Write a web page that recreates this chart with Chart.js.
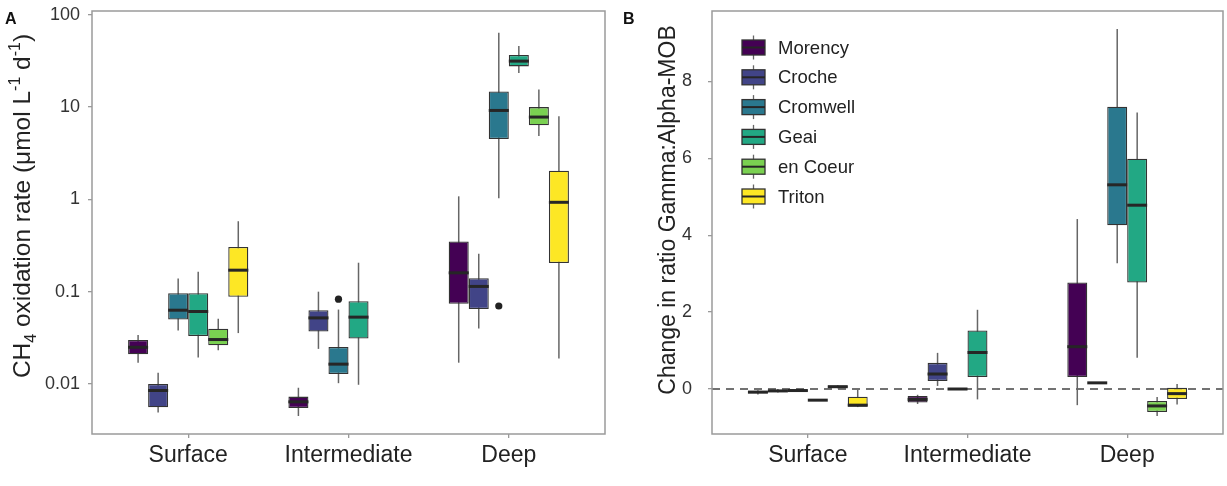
<!DOCTYPE html>
<html>
<head>
<meta charset="utf-8">
<script src="https://cdn.jsdelivr.net/npm/chart.js@4.4.0/dist/chart.umd.min.js"></script>
<style>
  html, body { margin: 0; padding: 0; background: #fff; }
  #wrap { position: relative; width: 1227px; height: 486px; }
  #rateChart { position: absolute; left: 0; top: 0; }
  #ratioChart { position: absolute; left: 613px; top: 0; }
</style>
</head>
<body>
<div id="wrap">
  <canvas id="rateChart" width="613" height="486"></canvas>
  <canvas id="ratioChart" width="614" height="486"></canvas>
</div>
<script>
// === Data ===
const categories = ['Surface', 'Intermediate', 'Deep'];
const sites = ['Morency', 'Croche', 'Cromwell', 'Geai', 'en Coeur', 'Triton'];
const siteColors = ['#440154', '#414487', '#2A788E', '#22A884', '#7AD151', '#FDE725'];

// Panel A: CH4 oxidation rate, [min, q1, median, q3, max] per depth (null = no samples)
const rateMorency  = [[0.017, 0.021, 0.025, 0.030, 0.034], [0.0045, 0.0055, 0.0064, 0.0073, 0.0091], [0.017, 0.074, 0.16, 0.35, 1.08]];
const rateCroche   = [[0.0049, 0.0056, 0.0085, 0.0100, 0.0132], [0.024, 0.037, 0.052, 0.063, 0.100], [0.040, 0.065, 0.114, 0.140, 0.258]];
const rateCromwell = [[0.038, 0.050, 0.063, 0.096, 0.139], [0.0102, 0.0128, 0.0164, 0.0252, 0.064], [1.03, 4.5, 9.2, 14.8, 64]];
const rateGeai     = [[0.0194, 0.033, 0.061, 0.096, 0.164], [0.0098, 0.031, 0.053, 0.079, 0.206], [23.4, 27.6, 31.5, 36.8, 46]];
const rateCoeur    = [[0.0232, 0.0262, 0.0303, 0.0397, 0.0508], null, [4.87, 6.35, 7.8, 10.0, 15.5]];
const rateTriton   = [[0.0356, 0.088, 0.171, 0.305, 0.58], null, [0.0189, 0.204, 0.93, 2.04, 7.94]];
const rateOutliers = [[2, 1, 0.083], [2, 2, 0.070]]; // [site, depth, value]
const rateTicks = [0.01, 0.1, 1, 10, 100];

// Panel B: change in ratio Gamma:Alpha-MOB, [min, q1, median, q3, max] per depth
const ratioMorency  = [[-0.14, -0.12, -0.08, -0.05, -0.03], [-0.39, -0.35, -0.27, -0.18, -0.15], [-0.42, 0.31, 1.10, 2.77, 4.42]];
const ratioCroche   = [[-0.09, -0.08, -0.05, -0.02, 0.00], [0.08, 0.21, 0.39, 0.68, 0.94], [0.15, 0.16, 0.16, 0.16, 0.17]];
const ratioCromwell = [[-0.08, -0.07, -0.04, -0.01, 0.01], [-0.02, -0.01, 0.00, 0.01, 0.02], [3.27, 4.26, 5.31, 7.34, 9.36]];
const ratioGeai     = [[-0.29, -0.29, -0.29, -0.29, -0.29], [-0.27, 0.31, 0.95, 1.52, 2.06], [0.81, 2.77, 4.78, 5.99, 7.19]];
const ratioCoeur    = [[0.02, 0.03, 0.06, 0.09, 0.10], null, [-0.70, -0.60, -0.44, -0.31, -0.21]];
const ratioTriton   = [[-0.47, -0.46, -0.42, -0.20, -0.02], null, [-0.40, -0.26, -0.12, 0.03, 0.13]];
const ratioTicks = [0, 2, 4, 6, 8];

const FONT = '"Liberation Sans", Arial, sans-serif';

// === Boxes are floating bars, whiskers/medians drawn from the same scales ===
function boxDatasets(seriesStats) {
  return sites.map((site, i) => ({
    label: site,
    stats: seriesStats[i],
    data: seriesStats[i].map((s, j) => ({ x: j, y: s ? [s[1], s[3]] : null })),
    backgroundColor: siteColors[i],
    borderColor: '#333',
    borderWidth: 1.3,
    borderSkipped: false,
    categoryPercentage: 0.75,
    barPercentage: 1
  }));
}

function boxPlugin(outliers, zeroLine) {
  return {
    id: 'boxParts',
    beforeDatasetsDraw(chart) {
      const ctx = chart.ctx, y = chart.scales.y, area = chart.chartArea;
      ctx.save();
      if (zeroLine) {
        ctx.strokeStyle = '#444';
        ctx.lineWidth = 1.6;
        ctx.setLineDash([8, 6]);
        ctx.beginPath();
        ctx.moveTo(area.left, y.getPixelForValue(0));
        ctx.lineTo(area.right, y.getPixelForValue(0));
        ctx.stroke();
        ctx.setLineDash([]);
      }
      ctx.strokeStyle = '#666';
      ctx.lineWidth = 1.5;
      chart.data.datasets.forEach((ds, i) => {
        chart.getDatasetMeta(i).data.forEach((bar, j) => {
          const s = ds.stats[j];
          if (!s) return;
          ctx.beginPath();
          ctx.moveTo(bar.x, y.getPixelForValue(s[0]));
          ctx.lineTo(bar.x, y.getPixelForValue(s[4]));
          ctx.stroke();
        });
      });
      ctx.restore();
    },
    afterDatasetsDraw(chart) {
      const ctx = chart.ctx, y = chart.scales.y;
      ctx.save();
      ctx.strokeStyle = '#262626';
      ctx.lineWidth = 3;
      chart.data.datasets.forEach((ds, i) => {
        chart.getDatasetMeta(i).data.forEach((bar, j) => {
          const s = ds.stats[j];
          if (!s) return;
          const py = y.getPixelForValue(s[2]);
          ctx.beginPath();
          ctx.moveTo(bar.x - bar.width / 2, py);
          ctx.lineTo(bar.x + bar.width / 2, py);
          ctx.stroke();
        });
      });
      ctx.fillStyle = '#222';
      outliers.forEach(o => {
        const bar = chart.getDatasetMeta(o[0]).data[o[1]];
        ctx.beginPath();
        ctx.arc(bar.x, y.getPixelForValue(o[2]), 3.6, 0, Math.PI * 2);
        ctx.fill();
      });
      ctx.restore();
    },
    afterDraw(chart) {
      const ctx = chart.ctx, a = chart.chartArea;
      ctx.save();
      ctx.strokeStyle = '#9a9a9a';
      ctx.lineWidth = 1.5;
      ctx.strokeRect(a.left, a.top, a.right - a.left, a.bottom - a.top);
      ctx.restore();
    }
  };
}

// rotated y title with sub/superscripts, plus panel letter
function titlePlugin(parts, size, cx, cy, letter, letterX) {
  return {
    id: 'titleParts',
    afterDraw(chart) {
      const ctx = chart.ctx;
      const big = size, small = Math.round(size * 0.66);
      let total = 0;
      parts.forEach(p => {
        ctx.font = (p.sub || p.sup ? small : big) + 'px ' + FONT;
        total += ctx.measureText(p.text).width;
      });
      ctx.save();
      ctx.translate(cx, cy);
      ctx.rotate(-Math.PI / 2);
      ctx.fillStyle = '#222';
      ctx.textBaseline = 'alphabetic';
      let pos = -total / 2;
      parts.forEach(p => {
        ctx.font = (p.sub || p.sup ? small : big) + 'px ' + FONT;
        const dy = p.sub ? big * 0.26 : p.sup ? -big * 0.39 : 0;
        ctx.fillText(p.text, pos, big * 0.36 + dy);
        pos += ctx.measureText(p.text).width;
      });
      ctx.restore();

      ctx.save();
      ctx.font = 'bold 16px ' + FONT;
      ctx.fillStyle = '#111';
      ctx.textBaseline = 'alphabetic';
      ctx.fillText(letter, letterX, 24);
      ctx.restore();
    }
  };
}

const legendPlugin = {
  id: 'boxLegend',
  afterDraw(chart) {
    const ctx = chart.ctx;
    const x = 129, w = 23, h = 15, y0 = 47.5, step = 29.8;
    ctx.save();
    chart.data.datasets.forEach((ds, i) => {
      const cy = y0 + i * step, cx = x + w / 2;
      ctx.strokeStyle = '#666';
      ctx.lineWidth = 1.3;
      ctx.beginPath();
      ctx.moveTo(cx, cy - 12);
      ctx.lineTo(cx, cy + 12);
      ctx.stroke();
      ctx.fillStyle = ds.backgroundColor;
      ctx.fillRect(x, cy - h / 2, w, h);
      ctx.strokeStyle = '#333';
      ctx.strokeRect(x, cy - h / 2, w, h);
      ctx.strokeStyle = '#262626';
      ctx.lineWidth = 2;
      ctx.beginPath();
      ctx.moveTo(x, cy);
      ctx.lineTo(x + w, cy);
      ctx.stroke();
      ctx.fillStyle = '#222';
      ctx.font = '18.5px ' + FONT;
      ctx.textBaseline = 'middle';
      ctx.fillText(ds.label, x + w + 13, cy + 1);
    });
    ctx.restore();
  }
};

function scalesFor(yType, yMin, yMax, yTicks, yWidth, yPad) {
  return {
    x: {
      type: 'linear',
      min: -0.6,
      max: 2.6,
      offset: false,
      afterBuildTicks: s => { s.ticks = categories.map((c, i) => ({ value: i })); },
      afterFit: s => { s.height = 52; s.paddingLeft = 0; s.paddingRight = 0; },
      grid: { display: true, offset: false, drawOnChartArea: false, drawTicks: true, tickLength: 4, color: '#9a9a9a', lineWidth: 1.3 },
      border: { display: false },
      ticks: {
        padding: 4,
        color: '#222',
        font: { family: FONT, size: 23 },
        maxRotation: 0,
        callback: v => categories[v] !== undefined ? categories[v] : ''
      }
    },
    y: {
      type: yType,
      min: yMin,
      max: yMax,
      afterBuildTicks: s => { s.ticks = yTicks.map(v => ({ value: v })); },
      afterFit: s => { s.width = yWidth; s.paddingTop = 0; s.paddingBottom = 0; },
      grid: { display: true, drawOnChartArea: false, drawTicks: true, tickLength: 4, color: '#9a9a9a', lineWidth: 1.3 },
      border: { display: false },
      ticks: {
        padding: yPad,
        color: '#333',
        font: { family: FONT, size: 18 },
        callback: v => String(v)
      }
    }
  };
}

document.addEventListener('DOMContentLoaded', function () {

  // === Panel A: oxidation rate (log scale) ===
  new Chart(document.getElementById('rateChart'), {
    type: 'bar',
    data: {
      datasets: boxDatasets([rateMorency, rateCroche, rateCromwell, rateGeai, rateCoeur, rateTriton])
    },
    options: {
      responsive: false,
      animation: false,
      layout: { padding: { top: 11, right: 8, left: 0, bottom: 0 } },
      plugins: { legend: { display: false }, tooltip: { enabled: false } },
      scales: scalesFor('logarithmic', 0.00287, 110, rateTicks, 92, 8)
    },
    plugins: [
      boxPlugin(rateOutliers, false),
      titlePlugin([
        { text: 'CH' }, { text: '4', sub: true },
        { text: ' oxidation rate (\u03bcmol L' }, { text: '-1', sup: true },
        { text: ' d' }, { text: '-1', sup: true }, { text: ')' }
      ], 24.5, 21, 206, 'A', 5)
    ]
  });

  // === Panel B: change in Gamma:Alpha-MOB ratio ===
  new Chart(document.getElementById('ratioChart'), {
    type: 'bar',
    data: {
      datasets: boxDatasets([ratioMorency, ratioCroche, ratioCromwell, ratioGeai, ratioCoeur, ratioTriton])
    },
    options: {
      responsive: false,
      animation: false,
      layout: { padding: { top: 11, right: 4, left: 0, bottom: 0 } },
      plugins: { legend: { display: false }, tooltip: { enabled: false } },
      scales: scalesFor('linear', -1.17, 9.83, ratioTicks, 99, 16)
    },
    plugins: [
      boxPlugin([], true),
      titlePlugin([{ text: 'Change in ratio Gamma:Alpha-MOB' }], 23, 54, 210, 'B', 10),
      legendPlugin
    ]
  });

});
</script>
</body>
</html>
